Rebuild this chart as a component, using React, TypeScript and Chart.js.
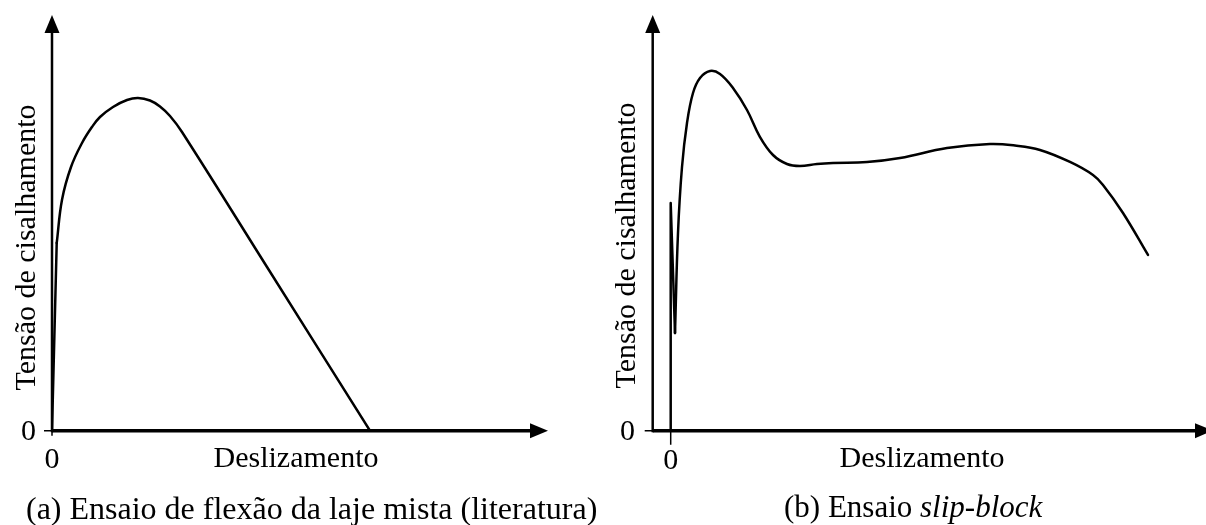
import React, { useEffect, useRef } from "react";
import { Chart, registerables } from "chart.js";

Chart.register(...registerables);

// ---------- data (arbitrary units: slip, shear stress) ----------
const leftSlip = [0, 0.95, 2.02, 3.83, 6.05, 8.06, 9.68, 12.3, 15.12, 17.34, 19.76, 21.77, 23.79, 26.21, 43.35, 64.11];
const leftStress = [0, 45.15, 55.57, 63.43, 69.21, 73.06, 75.46, 77.87, 79.55, 80.03, 79.43, 77.99, 75.7, 71.86, 39.38, 0];

const rightSlip = [0, 0, 0.86, 1.46, 2.26, 3.26, 4.46, 5.86, 7.86, 9.86, 12.46, 15.26, 17.86, 20.46, 23.26, 25.86, 29.26, 32.46, 39.26, 45.86, 55.26, 63.86, 68.86, 73.86, 79.86, 84.46, 86.46, 90.46, 95.46];
const rightStress = [0, 54.78, 23.5, 47.56, 63.43, 74.02, 81.24, 84.85, 86.53, 85.81, 82.44, 77.15, 70.65, 66.32, 64.16, 63.68, 64.16, 64.4, 64.64, 65.6, 68.01, 68.97, 68.6, 67.53, 64.64, 61.51, 59.11, 52.37, 42.27];

const yTickLabels = ["0"];
const xTickLabels = ["0"];
const yTitle = "Tensão de cisalhamento";
const xTitle = "Deslizamento";
const leftCaption = [{ text: "(a) Ensaio de flexão da laje mista (literatura)", italic: false }];
const rightCaption = [
  { text: "(b) Ensaio ", italic: false },
  { text: "slip-block", italic: true },
];

// segments: [startIndex, endIndex, smooth]
const leftSegments: [number, number, boolean][] = [
  [0, 1, false],
  [1, leftSlip.length - 1, true],
];
const rightSegments: [number, number, boolean][] = [
  [0, 2, false],
  [2, rightSlip.length - 1, true],
];

const FONT = "'Liberation Serif', 'Times New Roman', serif";

function buildDatasets(xs: number[], ys: number[], segs: [number, number, boolean][]) {
  const pts = xs.map((x, i) => ({ x, y: ys[i] }));
  return segs.map(([a, b, smooth]) => ({
    data: pts.slice(a, b + 1),
    showLine: true,
    borderColor: "#000",
    borderWidth: 2.5,
    pointRadius: 0,
    fill: false,
    tension: smooth ? 0.4 : 0,
    cubicInterpolationMode: "default",
    borderCapStyle: "round",
    borderJoinStyle: "round",
  }));
}

type Decor = {
  arrowOverhang: number;
  yTitleX: number;
  yTitleY: number;
  yZeroRight: number;
  yZeroBase: number;
  xZeroBase: number;
  xTitleX: number;
  xTitleBase: number;
  captionLeft: number;
  captionBase: number;
  caption: { text: string; italic: boolean }[];
  xTickDown: number;
  fontSize: number;
  captionSize: number;
};

function decorPlugin(d: Decor) {
  return {
    id: "decor",
    beforeDatasetsDraw(chart: any) {
      const { ctx } = chart;
      const xs = chart.scales.x;
      const ys = chart.scales.y;
      const ax = xs.left;
      const oy = ys.getPixelForValue(0);
      const top = ys.top;
      const x0 = xs.getPixelForValue(0);
      const tipX = xs.right + d.arrowOverhang;
      ctx.save();
      ctx.fillStyle = "#000";
      ctx.strokeStyle = "#000";
      // y axis
      ctx.lineWidth = 2.5;
      ctx.beginPath();
      ctx.moveTo(ax, oy + 1.5);
      ctx.lineTo(ax, top + 15);
      ctx.stroke();
      ctx.beginPath();
      ctx.moveTo(ax, top);
      ctx.lineTo(ax - 7.5, top + 18);
      ctx.lineTo(ax + 7.5, top + 18);
      ctx.closePath();
      ctx.fill();
      // x axis
      ctx.lineWidth = 3.5;
      ctx.beginPath();
      ctx.moveTo(ax, oy);
      ctx.lineTo(tipX - 15, oy);
      ctx.stroke();
      ctx.beginPath();
      ctx.moveTo(tipX, oy);
      ctx.lineTo(tipX - 18, oy - 7.5);
      ctx.lineTo(tipX - 18, oy + 7.5);
      ctx.closePath();
      ctx.fill();
      // ticks
      ctx.lineWidth = 1.5;
      ctx.beginPath();
      ctx.moveTo(ax - 8, oy);
      ctx.lineTo(ax, oy);
      ctx.moveTo(x0, oy);
      ctx.lineTo(x0, oy + d.xTickDown);
      ctx.stroke();
      ctx.restore();
    },
    afterDraw(chart: any) {
      const { ctx } = chart;
      const xs = chart.scales.x;
      ctx.save();
      ctx.fillStyle = "#000";
      ctx.font = `${d.fontSize}px ${FONT}`;
      ctx.textBaseline = "alphabetic";
      // y title
      ctx.save();
      ctx.translate(d.yTitleX, d.yTitleY);
      ctx.rotate(-Math.PI / 2);
      ctx.textAlign = "center";
      ctx.fillText(yTitle, 0, 0);
      ctx.restore();
      // y zero label
      ctx.textAlign = "right";
      ctx.fillText(yTickLabels[0], d.yZeroRight, d.yZeroBase);
      // x zero label
      ctx.textAlign = "center";
      ctx.fillText(xTickLabels[0], xs.getPixelForValue(0), d.xZeroBase);
      // x title
      ctx.fillText(xTitle, d.xTitleX, d.xTitleBase);
      // caption
      ctx.textAlign = "left";
      let cx = d.captionLeft;
      for (const part of d.caption) {
        ctx.font = `${part.italic ? "italic " : ""}${d.captionSize}px ${FONT}`;
        ctx.fillText(part.text, cx, d.captionBase);
        cx += ctx.measureText(part.text).width;
      }
      ctx.restore();
    },
  };
}

function Panel(props: {
  width: number;
  height: number;
  xs: number[];
  ys: number[];
  segs: [number, number, boolean][];
  xMin: number;
  xMax: number;
  padding: { left: number; right: number; top: number; bottom: number };
  decor: Decor;
}) {
  const ref = useRef<HTMLCanvasElement | null>(null);
  useEffect(() => {
    if (!ref.current) return;
    const chart = new Chart(ref.current, {
      type: "scatter",
      data: { datasets: buildDatasets(props.xs, props.ys, props.segs) as any },
      options: {
        animation: false,
        responsive: false,
        devicePixelRatio: 1,
        events: [],
        layout: { padding: props.padding },
        plugins: { legend: { display: false }, tooltip: { enabled: false } },
        scales: {
          x: { type: "linear", display: false, min: props.xMin, max: props.xMax },
          y: { type: "linear", display: false, min: 0, max: 100 },
        },
      },
      plugins: [decorPlugin(props.decor)],
    });
    return () => chart.destroy();
  }, []);
  return <canvas ref={ref} width={props.width} height={props.height} style={{ display: "block" }} />;
}

export default function App() {
  return (
    <div style={{ position: "absolute", left: 0, top: 0, width: 1206, height: 525, background: "#fff", display: "flex" }}>
      <Panel
        width={600}
        height={525}
        xs={leftSlip}
        ys={leftStress}
        segs={leftSegments}
        xMin={0}
        xMax={100}
        padding={{ left: 52, right: 52, top: 15, bottom: 94.3 }}
        decor={{
          arrowOverhang: 0,
          yTitleX: 35,
          yTitleY: 247.5,
          yZeroRight: 36,
          yZeroBase: 440,
          xZeroBase: 468,
          xTitleX: 296,
          xTitleBase: 467,
          captionLeft: 26,
          captionBase: 519,
          caption: leftCaption,
          xTickDown: 5,
          fontSize: 30,
          captionSize: 32,
        }}
      />
      <Panel
        width={606}
        height={525}
        xs={rightSlip}
        ys={rightStress}
        segs={rightSegments}
        xMin={-3.6}
        xMax={107.06}
        padding={{ left: 52.7, right: 0, top: 15, bottom: 94.3 }}
        decor={{
          arrowOverhang: 7,
          yTitleX: 35,
          yTitleY: 245.5,
          yZeroRight: 35,
          yZeroBase: 440,
          xZeroBase: 469,
          xTitleX: 322,
          xTitleBase: 467,
          captionLeft: 184,
          captionBase: 517,
          caption: rightCaption,
          xTickDown: 14,
          fontSize: 30,
          captionSize: 31,
        }}
      />
    </div>
  );
}
